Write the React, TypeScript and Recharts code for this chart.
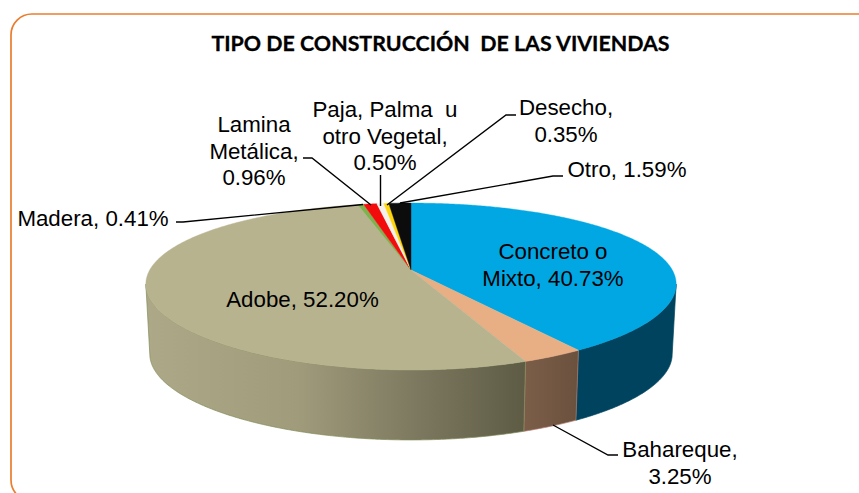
import React from 'react';
import { PieChart, Pie } from 'recharts';

const categories = ['Concreto o Mixto', 'Bahareque', 'Adobe', 'Madera', 'Lamina Metálica', 'Paja, Palma u otro Vegetal', 'Desecho', 'Otro'];
const values = [40.73, 3.25, 52.2, 0.41, 0.96, 0.5, 0.35, 1.59];
const topColors = ['#00A7E3', '#E8AE84', '#B8B38F', '#7FB24E', '#F20C0C', '#F4F1EC', '#FFD60A', '#0C0C0C'];
const wallStops = [
  [['0', '#00435F'], ['1', '#00435F']],
  [['0', '#7C5E48'], ['1', '#6A513E']],
  [['0', '#ADA988'], ['0.4', '#A09B7B'], ['0.72', '#7C785F'], ['1', '#5E5B45']],
  [['0', '#5a7a30'], ['1', '#5a7a30']],
  [['0', '#900'], ['1', '#900']],
  [['0', '#aaa'], ['1', '#aaa']],
  [['0', '#a80'], ['1', '#a80']],
  [['0', '#000'], ['1', '#000']],
];
const wallEdges = ['#00435F', '#B07A70', '#7F8C58', 'none', 'none', 'none', 'none', 'none'];
const labelLines = [
  ['Concreto o', 'Mixto, 40.73%'],
  ['Bahareque,', '3.25%'],
  ['Adobe, 52.20%'],
  ['Madera, 0.41%'],
  ['Lamina', 'Metálica,', '0.96%'],
  ['Paja, Palma  u', 'otro Vegetal,', '0.50%'],
  ['Desecho,', '0.35%'],
  ['Otro, 1.59%'],
];

const data = categories.map((name, i) => ({ name, value: values[i], fill: topColors[i], index: i }));

// layout of labels: centre x, first baseline, leader polyline
const labelX = [553, 680, 302.5, 93, 254, 385, 566, 627];
const labelY = [259, 457, 307, 226, 132, 117, 115, 177];
const lineStep = 26.5;
const leaders = [
  null,
  '553,425 608,455 618,455',
  null,
  '176,222 183,222 363,204.5',
  '303,158 312,158 371,205',
  '380.5,175 380.5,206',
  '516,115 506,115 387,205',
  '563,176 553,176 400,203',
];

const W = 859;
const H = 493;
const CX = 411;
const CY = 270;
const R = 261.3;
const TILT = 0.3069;
const K = 0.1976;
const KX = 0.17;
const DEPTH = 70;
const WALL_SHRINK = 0.985;
const RAD = Math.PI / 180;
const FRONT_HI = -Math.asin(KX) / RAD;
const FRONT_LO = -180 - FRONT_HI;

function project(t: number, cx: number, cy: number, r: number) {
  const u = Math.cos(t * RAD);
  const v = -Math.sin(t * RAD);
  return [cx + (r * u) / (1 - KX * v), cy + (r * TILT * v) / (1 - K * v)];
}

function arc(a: number, b: number, cx: number, cy: number, r: number) {
  const n = Math.max(2, Math.ceil(Math.abs(a - b) / 0.5));
  const pts: number[][] = [];
  for (let i = 0; i <= n; i++) pts.push(project(a + ((b - a) * i) / n, cx, cy, r));
  return pts;
}

function TopFace(props: any) {
  const { cx, cy, outerRadius, startAngle, endAngle, fill } = props;
  const pts = arc(startAngle, endAngle, cx, cy, outerRadius);
  const d = `M${cx},${cy}L` + pts.map((p) => `${p[0].toFixed(2)},${p[1].toFixed(2)}`).join('L') + 'Z';
  return <path d={d} fill={fill} stroke={fill} strokeWidth={0.4} />;
}

function Wall(props: any) {
  const { cx, cy, outerRadius, startAngle, endAngle, payload, index } = props;
  const i = payload?.index ?? index;
  const hi = Math.min(startAngle, FRONT_HI);
  const lo = Math.max(endAngle, FRONT_LO);
  if (hi <= lo) return <g />;
  const top = arc(hi, lo, cx, cy, outerRadius);
  const bottom = top.map((p) => [cx + (p[0] - cx) * WALL_SHRINK, p[1] + DEPTH]).reverse();
  const all = top.concat(bottom);
  const d = 'M' + all.map((p) => `${p[0].toFixed(2)},${p[1].toFixed(2)}`).join('L') + 'Z';
  const xs = all.map((p) => p[0]);
  const id = `wall-${i}`;
  return (
    <g>
      <defs>
        <linearGradient id={id} gradientUnits="userSpaceOnUse" x1={Math.min(...xs)} x2={Math.max(...xs)} y1={0} y2={0}>
          {wallStops[i].map((s, j) => (
            <stop key={j} offset={s[0]} stopColor={s[1]} />
          ))}
        </linearGradient>
      </defs>
      <path d={d} fill={`url(#${id})`} stroke={wallEdges[i]} strokeWidth={0.7} />
    </g>
  );
}

function renderLabel(props: any) {
  const i = props.index;
  const lead = leaders[i];
  return (
    <g key={i}>
      {lead && <polyline points={lead} fill="none" stroke="#000" strokeWidth={1.4} />}
      <text
        textAnchor="middle"
        fontFamily="'Liberation Sans', Arial, sans-serif"
        fontSize={22.3}
        fill="#000"
        style={{ whiteSpace: 'pre' }}
      >
        {labelLines[i].map((line, j) => (
          <tspan key={j} x={labelX[i]} y={labelY[i] + j * lineStep}>
            {line}
          </tspan>
        ))}
      </text>
    </g>
  );
}

export default function App() {
  return (
    <div style={{ position: 'fixed', left: 0, top: 0, width: W, height: H, background: '#fff', overflow: 'hidden' }}>
      <PieChart width={W} height={H} margin={{ top: 0, right: 0, bottom: 0, left: 0 }}>
        <rect x={11} y={14} width={880} height={487} rx={21} ry={21} fill="#fff" stroke="#EA7D2E" strokeWidth={1.7} />
        <text
          x={440.5}
          y={51}
          textAnchor="middle"
          fontFamily="Lato, sans-serif"
          fontWeight={700}
          fontSize={21.4}
          fill="#000"
          stroke="#000"
          strokeWidth={0.3}
          style={{ whiteSpace: 'pre' }}
        >
          {'TIPO DE CONSTRUCCIÓN  DE LAS VIVIENDAS'}
        </text>
        <Pie
          data={data}
          dataKey="value"
          nameKey="name"
          cx={CX}
          cy={CY}
          outerRadius={R}
          startAngle={90}
          endAngle={-270}
          stroke="none"
          shape={Wall}
          isAnimationActive={false}
          legendType="none"
        />
        <Pie
          data={data}
          dataKey="value"
          nameKey="name"
          cx={CX}
          cy={CY}
          outerRadius={R}
          startAngle={90}
          endAngle={-270}
          stroke="none"
          shape={TopFace}
          label={renderLabel}
          labelLine={false}
          isAnimationActive={false}
          legendType="none"
        />
      </PieChart>
    </div>
  );
}
